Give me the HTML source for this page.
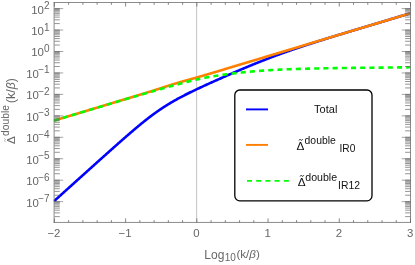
<!DOCTYPE html>
<html><head><meta charset="utf-8"><title>plot</title>
<style>html,body{margin:0;padding:0;background:#fff;}body{width:415px;height:265px;overflow:hidden;font-family:"Liberation Sans",sans-serif;}</style></head>
<body>
<svg width="415" height="265" viewBox="0 0 415 265" style="display:block;will-change:transform">
<rect width="415" height="265" fill="#fff"/>
<defs><clipPath id="c"><rect x="53.60" y="2.50" width="356.90" height="219.95"/></clipPath></defs>
<line x1="196.64" y1="2.50" x2="196.64" y2="222.45" stroke="#bbbbbb" stroke-width="0.9"/>
<g clip-path="url(#c)" fill="none" stroke-linejoin="round">
<path d="M53.90,201.27 L54.40,200.82 L54.90,200.37 L55.40,199.92 L55.90,199.47 L56.40,199.02 L56.90,198.56 L57.40,198.11 L57.90,197.66 L58.40,197.21 L58.90,196.76 L59.40,196.31 L59.90,195.86 L60.40,195.41 L60.90,194.96 L61.40,194.51 L61.90,194.06 L62.40,193.61 L62.90,193.15 L63.40,192.70 L63.90,192.25 L64.40,191.80 L64.90,191.35 L65.40,190.90 L65.90,190.45 L66.40,190.00 L66.90,189.55 L67.40,189.10 L67.90,188.65 L68.40,188.20 L68.90,187.74 L69.40,187.29 L69.90,186.84 L70.40,186.39 L70.90,185.94 L71.40,185.49 L71.91,185.04 L72.41,184.59 L72.91,184.14 L73.41,183.69 L73.91,183.24 L74.41,182.79 L74.91,182.34 L75.41,181.89 L75.91,181.44 L76.41,180.98 L76.91,180.53 L77.41,180.08 L77.91,179.63 L78.41,179.18 L78.91,178.73 L79.41,178.28 L79.91,177.83 L80.41,177.38 L80.91,176.93 L81.41,176.48 L81.91,176.03 L82.41,175.58 L82.91,175.13 L83.41,174.68 L83.91,174.23 L84.41,173.78 L84.91,173.33 L85.41,172.88 L85.91,172.43 L86.41,171.98 L86.91,171.53 L87.41,171.08 L87.91,170.63 L88.41,170.18 L88.91,169.73 L89.41,169.28 L89.91,168.83 L90.41,168.38 L90.91,167.93 L91.41,167.48 L91.91,167.03 L92.41,166.58 L92.91,166.13 L93.41,165.68 L93.91,165.23 L94.41,164.78 L94.91,164.33 L95.41,163.88 L95.91,163.43 L96.41,162.98 L96.91,162.53 L97.41,162.08 L97.91,161.64 L98.41,161.19 L98.91,160.74 L99.41,160.29 L99.91,159.84 L100.41,159.39 L100.91,158.94 L101.41,158.49 L101.91,158.05 L102.41,157.60 L102.91,157.15 L103.41,156.70 L103.91,156.25 L104.41,155.81 L104.91,155.36 L105.41,154.91 L105.91,154.46 L106.41,154.02 L106.91,153.57 L107.42,153.12 L107.92,152.67 L108.42,152.23 L108.92,151.78 L109.42,151.33 L109.92,150.89 L110.42,150.44 L110.92,150.00 L111.42,149.55 L111.92,149.11 L112.42,148.66 L112.92,148.21 L113.42,147.77 L113.92,147.33 L114.42,146.88 L114.92,146.44 L115.42,145.99 L115.92,145.55 L116.42,145.11 L116.92,144.66 L117.42,144.22 L117.92,143.78 L118.42,143.34 L118.92,142.89 L119.42,142.45 L119.92,142.01 L120.42,141.57 L120.92,141.13 L121.42,140.69 L121.92,140.25 L122.42,139.81 L122.92,139.37 L123.42,138.93 L123.92,138.50 L124.42,138.06 L124.92,137.62 L125.42,137.19 L125.92,136.75 L126.42,136.31 L126.92,135.88 L127.42,135.45 L127.92,135.01 L128.42,134.58 L128.92,134.15 L129.42,133.71 L129.92,133.28 L130.42,132.85 L130.92,132.42 L131.42,131.99 L131.92,131.57 L132.42,131.14 L132.92,130.71 L133.42,130.29 L133.92,129.86 L134.42,129.44 L134.92,129.02 L135.42,128.59 L135.92,128.17 L136.42,127.75 L136.92,127.33 L137.42,126.91 L137.92,126.50 L138.42,126.08 L138.92,125.67 L139.42,125.25 L139.92,124.84 L140.42,124.43 L140.92,124.02 L141.42,123.61 L141.92,123.20 L142.42,122.80 L142.92,122.39 L143.43,121.99 L143.93,121.59 L144.43,121.19 L144.93,120.79 L145.43,120.39 L145.93,120.00 L146.43,119.60 L146.93,119.21 L147.43,118.82 L147.93,118.43 L148.43,118.04 L148.93,117.66 L149.43,117.27 L149.93,116.89 L150.43,116.51 L150.93,116.13 L151.43,115.75 L151.93,115.38 L152.43,115.01 L152.93,114.64 L153.43,114.27 L153.93,113.90 L154.43,113.54 L154.93,113.17 L155.43,112.81 L155.93,112.45 L156.43,112.10 L156.93,111.74 L157.43,111.39 L157.93,111.04 L158.43,110.69 L158.93,110.35 L159.43,110.00 L159.93,109.66 L160.43,109.32 L160.93,108.98 L161.43,108.65 L161.93,108.31 L162.43,107.98 L162.93,107.65 L163.43,107.33 L163.93,107.00 L164.43,106.68 L164.93,106.36 L165.43,106.04 L165.93,105.72 L166.43,105.41 L166.93,105.10 L167.43,104.79 L167.93,104.48 L168.43,104.17 L168.93,103.87 L169.43,103.57 L169.93,103.27 L170.43,102.97 L170.93,102.67 L171.43,102.38 L171.93,102.09 L172.43,101.80 L172.93,101.51 L173.43,101.22 L173.93,100.93 L174.43,100.65 L174.93,100.37 L175.43,100.09 L175.93,99.81 L176.43,99.53 L176.93,99.25 L177.43,98.98 L177.93,98.71 L178.43,98.44 L178.94,98.17 L179.44,97.90 L179.94,97.63 L180.44,97.36 L180.94,97.10 L181.44,96.84 L181.94,96.57 L182.44,96.31 L182.94,96.05 L183.44,95.80 L183.94,95.54 L184.44,95.28 L184.94,95.03 L185.44,94.77 L185.94,94.52 L186.44,94.27 L186.94,94.02 L187.44,93.77 L187.94,93.52 L188.44,93.27 L188.94,93.02 L189.44,92.78 L189.94,92.53 L190.44,92.28 L190.94,92.04 L191.44,91.80 L191.94,91.55 L192.44,91.31 L192.94,91.07 L193.44,90.83 L193.94,90.59 L194.44,90.35 L194.94,90.11 L195.44,89.87 L195.94,89.64 L196.44,89.40 L196.94,89.16 L197.44,88.93 L197.94,88.69 L198.44,88.46 L198.94,88.22 L199.44,87.99 L199.94,87.76 L200.44,87.52 L200.94,87.29 L201.44,87.06 L201.94,86.83 L202.44,86.59 L202.94,86.36 L203.44,86.13 L203.94,85.90 L204.44,85.67 L204.94,85.44 L205.44,85.21 L205.94,84.99 L206.44,84.76 L206.94,84.53 L207.44,84.30 L207.94,84.07 L208.44,83.85 L208.94,83.62 L209.44,83.39 L209.94,83.17 L210.44,82.94 L210.94,82.71 L211.44,82.49 L211.94,82.26 L212.44,82.04 L212.94,81.81 L213.44,81.59 L213.94,81.36 L214.45,81.14 L214.95,80.92 L215.45,80.69 L215.95,80.47 L216.45,80.25 L216.95,80.02 L217.45,79.80 L217.95,79.58 L218.45,79.35 L218.95,79.13 L219.45,78.91 L219.95,78.69 L220.45,78.47 L220.95,78.25 L221.45,78.02 L221.95,77.80 L222.45,77.58 L222.95,77.36 L223.45,77.14 L223.95,76.92 L224.45,76.70 L224.95,76.48 L225.45,76.26 L225.95,76.04 L226.45,75.83 L226.95,75.61 L227.45,75.39 L227.95,75.17 L228.45,74.95 L228.95,74.73 L229.45,74.52 L229.95,74.30 L230.45,74.08 L230.95,73.86 L231.45,73.65 L231.95,73.43 L232.45,73.21 L232.95,73.00 L233.45,72.78 L233.95,72.57 L234.45,72.35 L234.95,72.13 L235.45,71.92 L235.95,71.70 L236.45,71.49 L236.95,71.28 L237.45,71.06 L237.95,70.85 L238.45,70.63 L238.95,70.42 L239.45,70.21 L239.95,69.99 L240.45,69.78 L240.95,69.57 L241.45,69.36 L241.95,69.15 L242.45,68.93 L242.95,68.72 L243.45,68.51 L243.95,68.30 L244.45,68.09 L244.95,67.88 L245.45,67.67 L245.95,67.46 L246.45,67.25 L246.95,67.04 L247.45,66.84 L247.95,66.63 L248.45,66.42 L248.95,66.21 L249.45,66.00 L249.95,65.80 L250.46,65.59 L250.96,65.39 L251.46,65.18 L251.96,64.97 L252.46,64.77 L252.96,64.56 L253.46,64.36 L253.96,64.16 L254.46,63.95 L254.96,63.75 L255.46,63.55 L255.96,63.34 L256.46,63.14 L256.96,62.94 L257.46,62.74 L257.96,62.54 L258.46,62.34 L258.96,62.14 L259.46,61.94 L259.96,61.74 L260.46,61.54 L260.96,61.34 L261.46,61.14 L261.96,60.94 L262.46,60.75 L262.96,60.55 L263.46,60.35 L263.96,60.16 L264.46,59.96 L264.96,59.77 L265.46,59.57 L265.96,59.38 L266.46,59.18 L266.96,58.99 L267.46,58.80 L267.96,58.60 L268.46,58.41 L268.96,58.22 L269.46,58.03 L269.96,57.84 L270.46,57.65 L270.96,57.46 L271.46,57.27 L271.96,57.08 L272.46,56.89 L272.96,56.70 L273.46,56.51 L273.96,56.33 L274.46,56.14 L274.96,55.95 L275.46,55.77 L275.96,55.58 L276.46,55.40 L276.96,55.21 L277.46,55.03 L277.96,54.85 L278.46,54.66 L278.96,54.48 L279.46,54.30 L279.96,54.12 L280.46,53.93 L280.96,53.75 L281.46,53.57 L281.96,53.39 L282.46,53.21 L282.96,53.03 L283.46,52.85 L283.96,52.68 L284.46,52.50 L284.96,52.32 L285.46,52.14 L285.97,51.97 L286.47,51.79 L286.97,51.61 L287.47,51.44 L287.97,51.26 L288.47,51.09 L288.97,50.91 L289.47,50.74 L289.97,50.57 L290.47,50.39 L290.97,50.22 L291.47,50.05 L291.97,49.88 L292.47,49.70 L292.97,49.53 L293.47,49.36 L293.97,49.19 L294.47,49.02 L294.97,48.85 L295.47,48.68 L295.97,48.51 L296.47,48.34 L296.97,48.17 L297.47,48.01 L297.97,47.84 L298.47,47.67 L298.97,47.50 L299.47,47.33 L299.97,47.17 L300.47,47.00 L300.97,46.83 L301.47,46.67 L301.97,46.50 L302.47,46.34 L302.97,46.17 L303.47,46.01 L303.97,45.84 L304.47,45.68 L304.97,45.51 L305.47,45.35 L305.97,45.19 L306.47,45.02 L306.97,44.86 L307.47,44.70 L307.97,44.53 L308.47,44.37 L308.97,44.21 L309.47,44.05 L309.97,43.89 L310.47,43.72 L310.97,43.56 L311.47,43.40 L311.97,43.24 L312.47,43.08 L312.97,42.92 L313.47,42.76 L313.97,42.60 L314.47,42.44 L314.97,42.28 L315.47,42.12 L315.97,41.96 L316.47,41.80 L316.97,41.64 L317.47,41.48 L317.97,41.32 L318.47,41.16 L318.97,41.01 L319.47,40.85 L319.97,40.69 L320.47,40.53 L320.97,40.37 L321.48,40.22 L321.98,40.06 L322.48,39.90 L322.98,39.74 L323.48,39.59 L323.98,39.43 L324.48,39.27 L324.98,39.12 L325.48,38.96 L325.98,38.80 L326.48,38.65 L326.98,38.49 L327.48,38.33 L327.98,38.18 L328.48,38.02 L328.98,37.87 L329.48,37.71 L329.98,37.56 L330.48,37.40 L330.98,37.25 L331.48,37.09 L331.98,36.94 L332.48,36.79 L332.98,36.63 L333.48,36.48 L333.98,36.32 L334.48,36.17 L334.98,36.02 L335.48,35.86 L335.98,35.71 L336.48,35.56 L336.98,35.41 L337.48,35.25 L337.98,35.10 L338.48,34.95 L338.98,34.80 L339.48,34.64 L339.98,34.49 L340.48,34.34 L340.98,34.19 L341.48,34.04 L341.98,33.89 L342.48,33.73 L342.98,33.58 L343.48,33.43 L343.98,33.28 L344.48,33.13 L344.98,32.98 L345.48,32.83 L345.98,32.68 L346.48,32.53 L346.98,32.38 L347.48,32.23 L347.98,32.08 L348.48,31.92 L348.98,31.77 L349.48,31.62 L349.98,31.47 L350.48,31.32 L350.98,31.17 L351.48,31.02 L351.98,30.87 L352.48,30.72 L352.98,30.57 L353.48,30.42 L353.98,30.27 L354.48,30.12 L354.98,29.97 L355.48,29.82 L355.98,29.67 L356.48,29.51 L356.98,29.36 L357.49,29.21 L357.99,29.06 L358.49,28.91 L358.99,28.76 L359.49,28.61 L359.99,28.46 L360.49,28.31 L360.99,28.16 L361.49,28.01 L361.99,27.86 L362.49,27.71 L362.99,27.56 L363.49,27.41 L363.99,27.26 L364.49,27.11 L364.99,26.95 L365.49,26.80 L365.99,26.65 L366.49,26.50 L366.99,26.35 L367.49,26.20 L367.99,26.05 L368.49,25.90 L368.99,25.75 L369.49,25.60 L369.99,25.45 L370.49,25.30 L370.99,25.15 L371.49,25.00 L371.99,24.85 L372.49,24.70 L372.99,24.54 L373.49,24.39 L373.99,24.24 L374.49,24.09 L374.99,23.94 L375.49,23.79 L375.99,23.64 L376.49,23.49 L376.99,23.34 L377.49,23.19 L377.99,23.04 L378.49,22.89 L378.99,22.74 L379.49,22.59 L379.99,22.44 L380.49,22.29 L380.99,22.14 L381.49,21.98 L381.99,21.83 L382.49,21.68 L382.99,21.53 L383.49,21.38 L383.99,21.23 L384.49,21.08 L384.99,20.93 L385.49,20.78 L385.99,20.63 L386.49,20.48 L386.99,20.33 L387.49,20.18 L387.99,20.03 L388.49,19.88 L388.99,19.73 L389.49,19.57 L389.99,19.42 L390.49,19.27 L390.99,19.12 L391.49,18.97 L391.99,18.82 L392.49,18.67 L393.00,18.52 L393.50,18.37 L394.00,18.22 L394.50,18.07 L395.00,17.92 L395.50,17.77 L396.00,17.62 L396.50,17.47 L397.00,17.32 L397.50,17.17 L398.00,17.01 L398.50,16.86 L399.00,16.71 L399.50,16.56 L400.00,16.41 L400.50,16.26 L401.00,16.11 L401.50,15.96 L402.00,15.81 L402.50,15.66 L403.00,15.51 L403.50,15.36 L404.00,15.21 L404.50,15.06 L405.00,14.91 L405.50,14.76 L406.00,14.60 L406.50,14.45 L407.00,14.30 L407.50,14.15 L408.00,14.00 L408.50,13.85 L409.00,13.70 L409.50,13.55 L410.00,13.40 L410.50,13.25" stroke="#0000ff" stroke-width="2.6"/>
<path d="M53.90,120.63 L54.40,120.48 L54.90,120.33 L55.40,120.18 L55.90,120.03 L56.40,119.88 L56.90,119.73 L57.40,119.58 L57.90,119.43 L58.40,119.28 L58.90,119.12 L59.40,118.97 L59.90,118.82 L60.40,118.67 L60.90,118.52 L61.40,118.37 L61.90,118.22 L62.40,118.07 L62.90,117.92 L63.40,117.77 L63.90,117.62 L64.40,117.47 L64.90,117.32 L65.40,117.17 L65.90,117.02 L66.40,116.87 L66.90,116.71 L67.40,116.56 L67.90,116.41 L68.40,116.26 L68.90,116.11 L69.40,115.96 L69.90,115.81 L70.40,115.66 L70.90,115.51 L71.40,115.36 L71.91,115.21 L72.41,115.06 L72.91,114.91 L73.41,114.76 L73.91,114.61 L74.41,114.46 L74.91,114.31 L75.41,114.15 L75.91,114.00 L76.41,113.85 L76.91,113.70 L77.41,113.55 L77.91,113.40 L78.41,113.25 L78.91,113.10 L79.41,112.95 L79.91,112.80 L80.41,112.65 L80.91,112.50 L81.41,112.35 L81.91,112.20 L82.41,112.05 L82.91,111.90 L83.41,111.74 L83.91,111.59 L84.41,111.44 L84.91,111.29 L85.41,111.14 L85.91,110.99 L86.41,110.84 L86.91,110.69 L87.41,110.54 L87.91,110.39 L88.41,110.24 L88.91,110.09 L89.41,109.94 L89.91,109.79 L90.41,109.64 L90.91,109.49 L91.41,109.34 L91.91,109.18 L92.41,109.03 L92.91,108.88 L93.41,108.73 L93.91,108.58 L94.41,108.43 L94.91,108.28 L95.41,108.13 L95.91,107.98 L96.41,107.83 L96.91,107.68 L97.41,107.53 L97.91,107.38 L98.41,107.23 L98.91,107.08 L99.41,106.93 L99.91,106.78 L100.41,106.62 L100.91,106.47 L101.41,106.32 L101.91,106.17 L102.41,106.02 L102.91,105.87 L103.41,105.72 L103.91,105.57 L104.41,105.42 L104.91,105.27 L105.41,105.12 L105.91,104.97 L106.41,104.82 L106.91,104.67 L107.42,104.52 L107.92,104.37 L108.42,104.21 L108.92,104.06 L109.42,103.91 L109.92,103.76 L110.42,103.61 L110.92,103.46 L111.42,103.31 L111.92,103.16 L112.42,103.01 L112.92,102.86 L113.42,102.71 L113.92,102.56 L114.42,102.41 L114.92,102.26 L115.42,102.11 L115.92,101.96 L116.42,101.81 L116.92,101.65 L117.42,101.50 L117.92,101.35 L118.42,101.20 L118.92,101.05 L119.42,100.90 L119.92,100.75 L120.42,100.60 L120.92,100.45 L121.42,100.30 L121.92,100.15 L122.42,100.00 L122.92,99.85 L123.42,99.70 L123.92,99.55 L124.42,99.40 L124.92,99.24 L125.42,99.09 L125.92,98.94 L126.42,98.79 L126.92,98.64 L127.42,98.49 L127.92,98.34 L128.42,98.19 L128.92,98.04 L129.42,97.89 L129.92,97.74 L130.42,97.59 L130.92,97.44 L131.42,97.29 L131.92,97.14 L132.42,96.98 L132.92,96.83 L133.42,96.68 L133.92,96.53 L134.42,96.38 L134.92,96.23 L135.42,96.08 L135.92,95.93 L136.42,95.78 L136.92,95.63 L137.42,95.47 L137.92,95.32 L138.42,95.17 L138.92,95.02 L139.42,94.87 L139.92,94.72 L140.42,94.57 L140.92,94.41 L141.42,94.26 L141.92,94.11 L142.42,93.96 L142.92,93.81 L143.43,93.65 L143.93,93.50 L144.43,93.35 L144.93,93.20 L145.43,93.04 L145.93,92.89 L146.43,92.74 L146.93,92.58 L147.43,92.43 L147.93,92.27 L148.43,92.12 L148.93,91.96 L149.43,91.81 L149.93,91.65 L150.43,91.50 L150.93,91.34 L151.43,91.19 L151.93,91.03 L152.43,90.87 L152.93,90.71 L153.43,90.56 L153.93,90.40 L154.43,90.24 L154.93,90.08 L155.43,89.92 L155.93,89.76 L156.43,89.60 L156.93,89.44 L157.43,89.28 L157.93,89.12 L158.43,88.96 L158.93,88.80 L159.43,88.64 L159.93,88.48 L160.43,88.32 L160.93,88.15 L161.43,87.99 L161.93,87.83 L162.43,87.67 L162.93,87.50 L163.43,87.34 L163.93,87.18 L164.43,87.02 L164.93,86.85 L165.43,86.69 L165.93,86.53 L166.43,86.37 L166.93,86.21 L167.43,86.04 L167.93,85.88 L168.43,85.72 L168.93,85.56 L169.43,85.40 L169.93,85.24 L170.43,85.09 L170.93,84.93 L171.43,84.77 L171.93,84.61 L172.43,84.46 L172.93,84.30 L173.43,84.15 L173.93,83.99 L174.43,83.84 L174.93,83.69 L175.43,83.53 L175.93,83.38 L176.43,83.23 L176.93,83.08 L177.43,82.93 L177.93,82.79 L178.43,82.64 L178.94,82.49 L179.44,82.35 L179.94,82.20 L180.44,82.06 L180.94,81.91 L181.44,81.77 L181.94,81.63 L182.44,81.49 L182.94,81.34 L183.44,81.20 L183.94,81.06 L184.44,80.92 L184.94,80.78 L185.44,80.64 L185.94,80.50 L186.44,80.36 L186.94,80.22 L187.44,80.09 L187.94,79.95 L188.44,79.81 L188.94,79.67 L189.44,79.53 L189.94,79.39 L190.44,79.25 L190.94,79.11 L191.44,78.97 L191.94,78.84 L192.44,78.70 L192.94,78.56 L193.44,78.42 L193.94,78.28 L194.44,78.14 L194.94,77.99 L195.44,77.85 L195.94,77.71 L196.44,77.57 L196.94,77.43 L197.44,77.29 L197.94,77.14 L198.44,77.00 L198.94,76.86 L199.44,76.71 L199.94,76.57 L200.44,76.42 L200.94,76.28 L201.44,76.13 L201.94,75.99 L202.44,75.84 L202.94,75.70 L203.44,75.55 L203.94,75.40 L204.44,75.26 L204.94,75.11 L205.44,74.96 L205.94,74.82 L206.44,74.67 L206.94,74.52 L207.44,74.37 L207.94,74.22 L208.44,74.07 L208.94,73.93 L209.44,73.78 L209.94,73.63 L210.44,73.48 L210.94,73.33 L211.44,73.18 L211.94,73.03 L212.44,72.88 L212.94,72.73 L213.44,72.58 L213.94,72.43 L214.45,72.28 L214.95,72.13 L215.45,71.98 L215.95,71.83 L216.45,71.68 L216.95,71.53 L217.45,71.38 L217.95,71.23 L218.45,71.08 L218.95,70.93 L219.45,70.78 L219.95,70.63 L220.45,70.48 L220.95,70.33 L221.45,70.18 L221.95,70.03 L222.45,69.88 L222.95,69.73 L223.45,69.58 L223.95,69.42 L224.45,69.27 L224.95,69.12 L225.45,68.97 L225.95,68.82 L226.45,68.67 L226.95,68.52 L227.45,68.37 L227.95,68.22 L228.45,68.07 L228.95,67.92 L229.45,67.77 L229.95,67.62 L230.45,67.47 L230.95,67.32 L231.45,67.17 L231.95,67.02 L232.45,66.86 L232.95,66.71 L233.45,66.56 L233.95,66.41 L234.45,66.26 L234.95,66.11 L235.45,65.96 L235.95,65.81 L236.45,65.66 L236.95,65.51 L237.45,65.36 L237.95,65.21 L238.45,65.06 L238.95,64.91 L239.45,64.76 L239.95,64.61 L240.45,64.46 L240.95,64.30 L241.45,64.15 L241.95,64.00 L242.45,63.85 L242.95,63.70 L243.45,63.55 L243.95,63.40 L244.45,63.25 L244.95,63.10 L245.45,62.95 L245.95,62.80 L246.45,62.65 L246.95,62.50 L247.45,62.35 L247.95,62.20 L248.45,62.05 L248.95,61.89 L249.45,61.74 L249.95,61.59 L250.46,61.44 L250.96,61.29 L251.46,61.14 L251.96,60.99 L252.46,60.84 L252.96,60.69 L253.46,60.54 L253.96,60.39 L254.46,60.24 L254.96,60.09 L255.46,59.94 L255.96,59.79 L256.46,59.64 L256.96,59.49 L257.46,59.33 L257.96,59.18 L258.46,59.03 L258.96,58.88 L259.46,58.73 L259.96,58.58 L260.46,58.43 L260.96,58.28 L261.46,58.13 L261.96,57.98 L262.46,57.83 L262.96,57.68 L263.46,57.53 L263.96,57.38 L264.46,57.23 L264.96,57.08 L265.46,56.92 L265.96,56.77 L266.46,56.62 L266.96,56.47 L267.46,56.32 L267.96,56.17 L268.46,56.02 L268.96,55.87 L269.46,55.72 L269.96,55.57 L270.46,55.42 L270.96,55.27 L271.46,55.12 L271.96,54.97 L272.46,54.82 L272.96,54.67 L273.46,54.52 L273.96,54.36 L274.46,54.21 L274.96,54.06 L275.46,53.91 L275.96,53.76 L276.46,53.61 L276.96,53.46 L277.46,53.31 L277.96,53.16 L278.46,53.01 L278.96,52.86 L279.46,52.71 L279.96,52.56 L280.46,52.41 L280.96,52.26 L281.46,52.11 L281.96,51.95 L282.46,51.80 L282.96,51.65 L283.46,51.50 L283.96,51.35 L284.46,51.20 L284.96,51.05 L285.46,50.90 L285.97,50.75 L286.47,50.60 L286.97,50.45 L287.47,50.30 L287.97,50.15 L288.47,50.00 L288.97,49.85 L289.47,49.70 L289.97,49.55 L290.47,49.39 L290.97,49.24 L291.47,49.09 L291.97,48.94 L292.47,48.79 L292.97,48.64 L293.47,48.49 L293.97,48.34 L294.47,48.19 L294.97,48.04 L295.47,47.89 L295.97,47.74 L296.47,47.59 L296.97,47.44 L297.47,47.29 L297.97,47.14 L298.47,46.98 L298.97,46.83 L299.47,46.68 L299.97,46.53 L300.47,46.38 L300.97,46.23 L301.47,46.08 L301.97,45.93 L302.47,45.78 L302.97,45.63 L303.47,45.48 L303.97,45.33 L304.47,45.18 L304.97,45.03 L305.47,44.88 L305.97,44.73 L306.47,44.58 L306.97,44.42 L307.47,44.27 L307.97,44.12 L308.47,43.97 L308.97,43.82 L309.47,43.67 L309.97,43.52 L310.47,43.37 L310.97,43.22 L311.47,43.07 L311.97,42.92 L312.47,42.77 L312.97,42.62 L313.47,42.47 L313.97,42.32 L314.47,42.17 L314.97,42.01 L315.47,41.86 L315.97,41.71 L316.47,41.56 L316.97,41.41 L317.47,41.26 L317.97,41.11 L318.47,40.96 L318.97,40.81 L319.47,40.66 L319.97,40.51 L320.47,40.36 L320.97,40.21 L321.48,40.06 L321.98,39.91 L322.48,39.76 L322.98,39.61 L323.48,39.45 L323.98,39.30 L324.48,39.15 L324.98,39.00 L325.48,38.85 L325.98,38.70 L326.48,38.55 L326.98,38.40 L327.48,38.25 L327.98,38.10 L328.48,37.95 L328.98,37.80 L329.48,37.65 L329.98,37.50 L330.48,37.35 L330.98,37.20 L331.48,37.04 L331.98,36.89 L332.48,36.74 L332.98,36.59 L333.48,36.44 L333.98,36.29 L334.48,36.14 L334.98,35.99 L335.48,35.84 L335.98,35.69 L336.48,35.54 L336.98,35.39 L337.48,35.24 L337.98,35.09 L338.48,34.94 L338.98,34.79 L339.48,34.64 L339.98,34.48 L340.48,34.33 L340.98,34.18 L341.48,34.03 L341.98,33.88 L342.48,33.73 L342.98,33.58 L343.48,33.43 L343.98,33.28 L344.48,33.13 L344.98,32.98 L345.48,32.83 L345.98,32.68 L346.48,32.53 L346.98,32.38 L347.48,32.23 L347.98,32.08 L348.48,31.92 L348.98,31.77 L349.48,31.62 L349.98,31.47 L350.48,31.32 L350.98,31.17 L351.48,31.02 L351.98,30.87 L352.48,30.72 L352.98,30.57 L353.48,30.42 L353.98,30.27 L354.48,30.12 L354.98,29.97 L355.48,29.82 L355.98,29.67 L356.48,29.51 L356.98,29.36 L357.49,29.21 L357.99,29.06 L358.49,28.91 L358.99,28.76 L359.49,28.61 L359.99,28.46 L360.49,28.31 L360.99,28.16 L361.49,28.01 L361.99,27.86 L362.49,27.71 L362.99,27.56 L363.49,27.41 L363.99,27.26 L364.49,27.11 L364.99,26.95 L365.49,26.80 L365.99,26.65 L366.49,26.50 L366.99,26.35 L367.49,26.20 L367.99,26.05 L368.49,25.90 L368.99,25.75 L369.49,25.60 L369.99,25.45 L370.49,25.30 L370.99,25.15 L371.49,25.00 L371.99,24.85 L372.49,24.70 L372.99,24.54 L373.49,24.39 L373.99,24.24 L374.49,24.09 L374.99,23.94 L375.49,23.79 L375.99,23.64 L376.49,23.49 L376.99,23.34 L377.49,23.19 L377.99,23.04 L378.49,22.89 L378.99,22.74 L379.49,22.59 L379.99,22.44 L380.49,22.29 L380.99,22.14 L381.49,21.98 L381.99,21.83 L382.49,21.68 L382.99,21.53 L383.49,21.38 L383.99,21.23 L384.49,21.08 L384.99,20.93 L385.49,20.78 L385.99,20.63 L386.49,20.48 L386.99,20.33 L387.49,20.18 L387.99,20.03 L388.49,19.88 L388.99,19.73 L389.49,19.57 L389.99,19.42 L390.49,19.27 L390.99,19.12 L391.49,18.97 L391.99,18.82 L392.49,18.67 L393.00,18.52 L393.50,18.37 L394.00,18.22 L394.50,18.07 L395.00,17.92 L395.50,17.77 L396.00,17.62 L396.50,17.47 L397.00,17.32 L397.50,17.17 L398.00,17.01 L398.50,16.86 L399.00,16.71 L399.50,16.56 L400.00,16.41 L400.50,16.26 L401.00,16.11 L401.50,15.96 L402.00,15.81 L402.50,15.66 L403.00,15.51 L403.50,15.36 L404.00,15.21 L404.50,15.06 L405.00,14.91 L405.50,14.76 L406.00,14.60 L406.50,14.45 L407.00,14.30 L407.50,14.15 L408.00,14.00 L408.50,13.85 L409.00,13.70 L409.50,13.55 L410.00,13.40 L410.50,13.25" stroke="#ff8000" stroke-width="2.6"/>
<path d="M53.90,120.63 L54.40,120.48 L54.90,120.33 L55.40,120.18 L55.90,120.03 L56.40,119.88 L56.90,119.73 L57.40,119.58 L57.90,119.43 L58.40,119.28 L58.90,119.13 L59.40,118.98 L59.90,118.83 L60.40,118.68 L60.90,118.53 L61.40,118.38 L61.90,118.23 L62.40,118.08 L62.90,117.93 L63.40,117.78 L63.90,117.63 L64.40,117.48 L64.90,117.33 L65.40,117.18 L65.90,117.03 L66.40,116.87 L66.90,116.72 L67.40,116.57 L67.90,116.42 L68.40,116.27 L68.90,116.12 L69.40,115.97 L69.90,115.82 L70.40,115.67 L70.90,115.52 L71.40,115.37 L71.91,115.22 L72.41,115.07 L72.91,114.92 L73.41,114.77 L73.91,114.62 L74.41,114.47 L74.91,114.32 L75.41,114.17 L75.91,114.02 L76.41,113.87 L76.91,113.72 L77.41,113.57 L77.91,113.42 L78.41,113.27 L78.91,113.12 L79.41,112.97 L79.91,112.82 L80.41,112.67 L80.91,112.52 L81.41,112.37 L81.91,112.22 L82.41,112.07 L82.91,111.92 L83.41,111.77 L83.91,111.63 L84.41,111.48 L84.91,111.33 L85.41,111.18 L85.91,111.03 L86.41,110.88 L86.91,110.73 L87.41,110.58 L87.91,110.43 L88.41,110.28 L88.91,110.13 L89.41,109.98 L89.91,109.83 L90.41,109.68 L90.91,109.53 L91.41,109.38 L91.91,109.23 L92.41,109.08 L92.91,108.93 L93.41,108.78 L93.91,108.63 L94.41,108.48 L94.91,108.33 L95.41,108.18 L95.91,108.03 L96.41,107.88 L96.91,107.74 L97.41,107.59 L97.91,107.44 L98.41,107.29 L98.91,107.14 L99.41,106.99 L99.91,106.84 L100.41,106.69 L100.91,106.54 L101.41,106.39 L101.91,106.24 L102.41,106.09 L102.91,105.94 L103.41,105.80 L103.91,105.65 L104.41,105.50 L104.91,105.35 L105.41,105.20 L105.91,105.05 L106.41,104.90 L106.91,104.75 L107.42,104.60 L107.92,104.45 L108.42,104.31 L108.92,104.16 L109.42,104.01 L109.92,103.86 L110.42,103.71 L110.92,103.56 L111.42,103.41 L111.92,103.26 L112.42,103.12 L112.92,102.97 L113.42,102.82 L113.92,102.67 L114.42,102.52 L114.92,102.37 L115.42,102.22 L115.92,102.08 L116.42,101.93 L116.92,101.78 L117.42,101.63 L117.92,101.48 L118.42,101.33 L118.92,101.19 L119.42,101.04 L119.92,100.89 L120.42,100.74 L120.92,100.59 L121.42,100.45 L121.92,100.30 L122.42,100.15 L122.92,100.00 L123.42,99.86 L123.92,99.71 L124.42,99.56 L124.92,99.41 L125.42,99.26 L125.92,99.12 L126.42,98.97 L126.92,98.82 L127.42,98.67 L127.92,98.53 L128.42,98.38 L128.92,98.23 L129.42,98.09 L129.92,97.94 L130.42,97.79 L130.92,97.64 L131.42,97.50 L131.92,97.35 L132.42,97.20 L132.92,97.06 L133.42,96.91 L133.92,96.76 L134.42,96.62 L134.92,96.47 L135.42,96.32 L135.92,96.18 L136.42,96.03 L136.92,95.88 L137.42,95.74 L137.92,95.59 L138.42,95.45 L138.92,95.30 L139.42,95.15 L139.92,95.01 L140.42,94.86 L140.92,94.72 L141.42,94.57 L141.92,94.43 L142.42,94.28 L142.92,94.14 L143.43,93.99 L143.93,93.84 L144.43,93.70 L144.93,93.55 L145.43,93.41 L145.93,93.26 L146.43,93.12 L146.93,92.98 L147.43,92.83 L147.93,92.69 L148.43,92.54 L148.93,92.40 L149.43,92.25 L149.93,92.11 L150.43,91.97 L150.93,91.82 L151.43,91.68 L151.93,91.53 L152.43,91.39 L152.93,91.25 L153.43,91.10 L153.93,90.96 L154.43,90.82 L154.93,90.67 L155.43,90.53 L155.93,90.39 L156.43,90.25 L156.93,90.10 L157.43,89.96 L157.93,89.82 L158.43,89.68 L158.93,89.53 L159.43,89.39 L159.93,89.25 L160.43,89.11 L160.93,88.97 L161.43,88.83 L161.93,88.68 L162.43,88.54 L162.93,88.40 L163.43,88.26 L163.93,88.12 L164.43,87.98 L164.93,87.84 L165.43,87.70 L165.93,87.56 L166.43,87.42 L166.93,87.28 L167.43,87.14 L167.93,87.00 L168.43,86.86 L168.93,86.72 L169.43,86.59 L169.93,86.45 L170.43,86.31 L170.93,86.17 L171.43,86.03 L171.93,85.89 L172.43,85.76 L172.93,85.62 L173.43,85.48 L173.93,85.34 L174.43,85.21 L174.93,85.07 L175.43,84.94 L175.93,84.80 L176.43,84.66 L176.93,84.53 L177.43,84.39 L177.93,84.26 L178.43,84.12 L178.94,83.99 L179.44,83.85 L179.94,83.72 L180.44,83.59 L180.94,83.45 L181.44,83.32 L181.94,83.19 L182.44,83.06 L182.94,82.92 L183.44,82.79 L183.94,82.66 L184.44,82.53 L184.94,82.40 L185.44,82.27 L185.94,82.14 L186.44,82.01 L186.94,81.88 L187.44,81.76 L187.94,81.63 L188.44,81.50 L188.94,81.37 L189.44,81.25 L189.94,81.12 L190.44,81.00 L190.94,80.87 L191.44,80.75 L191.94,80.63 L192.44,80.51 L192.94,80.39 L193.44,80.26 L193.94,80.15 L194.44,80.03 L194.94,79.91 L195.44,79.79 L195.94,79.68 L196.44,79.56 L196.94,79.45 L197.44,79.33 L197.94,79.22 L198.44,79.11 L198.94,79.00 L199.44,78.89 L199.94,78.78 L200.44,78.68 L200.94,78.57 L201.44,78.46 L201.94,78.36 L202.44,78.26 L202.94,78.16 L203.44,78.06 L203.94,77.96 L204.44,77.86 L204.94,77.76 L205.44,77.66 L205.94,77.57 L206.44,77.47 L206.94,77.38 L207.44,77.29 L207.94,77.20 L208.44,77.11 L208.94,77.02 L209.44,76.93 L209.94,76.84 L210.44,76.75 L210.94,76.67 L211.44,76.58 L211.94,76.50 L212.44,76.41 L212.94,76.33 L213.44,76.25 L213.94,76.17 L214.45,76.08 L214.95,76.00 L215.45,75.92 L215.95,75.84 L216.45,75.77 L216.95,75.69 L217.45,75.61 L217.95,75.53 L218.45,75.46 L218.95,75.38 L219.45,75.31 L219.95,75.23 L220.45,75.16 L220.95,75.09 L221.45,75.01 L221.95,74.94 L222.45,74.87 L222.95,74.80 L223.45,74.73 L223.95,74.66 L224.45,74.59 L224.95,74.52 L225.45,74.45 L225.95,74.38 L226.45,74.31 L226.95,74.25 L227.45,74.18 L227.95,74.11 L228.45,74.05 L228.95,73.98 L229.45,73.92 L229.95,73.85 L230.45,73.79 L230.95,73.72 L231.45,73.66 L231.95,73.60 L232.45,73.54 L232.95,73.48 L233.45,73.41 L233.95,73.35 L234.45,73.29 L234.95,73.23 L235.45,73.18 L235.95,73.12 L236.45,73.06 L236.95,73.00 L237.45,72.94 L237.95,72.89 L238.45,72.83 L238.95,72.77 L239.45,72.72 L239.95,72.66 L240.45,72.61 L240.95,72.56 L241.45,72.50 L241.95,72.45 L242.45,72.40 L242.95,72.34 L243.45,72.29 L243.95,72.24 L244.45,72.19 L244.95,72.14 L245.45,72.09 L245.95,72.04 L246.45,71.99 L246.95,71.94 L247.45,71.89 L247.95,71.85 L248.45,71.80 L248.95,71.75 L249.45,71.71 L249.95,71.66 L250.46,71.61 L250.96,71.57 L251.46,71.52 L251.96,71.48 L252.46,71.44 L252.96,71.39 L253.46,71.35 L253.96,71.31 L254.46,71.27 L254.96,71.22 L255.46,71.18 L255.96,71.14 L256.46,71.10 L256.96,71.06 L257.46,71.02 L257.96,70.98 L258.46,70.94 L258.96,70.91 L259.46,70.87 L259.96,70.83 L260.46,70.79 L260.96,70.76 L261.46,70.72 L261.96,70.68 L262.46,70.65 L262.96,70.61 L263.46,70.58 L263.96,70.54 L264.46,70.51 L264.96,70.48 L265.46,70.44 L265.96,70.41 L266.46,70.38 L266.96,70.34 L267.46,70.31 L267.96,70.28 L268.46,70.25 L268.96,70.22 L269.46,70.19 L269.96,70.16 L270.46,70.13 L270.96,70.10 L271.46,70.07 L271.96,70.04 L272.46,70.01 L272.96,69.98 L273.46,69.96 L273.96,69.93 L274.46,69.90 L274.96,69.87 L275.46,69.85 L275.96,69.82 L276.46,69.80 L276.96,69.77 L277.46,69.74 L277.96,69.72 L278.46,69.70 L278.96,69.67 L279.46,69.65 L279.96,69.62 L280.46,69.60 L280.96,69.58 L281.46,69.55 L281.96,69.53 L282.46,69.51 L282.96,69.49 L283.46,69.46 L283.96,69.44 L284.46,69.42 L284.96,69.40 L285.46,69.38 L285.97,69.36 L286.47,69.34 L286.97,69.32 L287.47,69.30 L287.97,69.28 L288.47,69.26 L288.97,69.24 L289.47,69.22 L289.97,69.20 L290.47,69.18 L290.97,69.17 L291.47,69.15 L291.97,69.13 L292.47,69.11 L292.97,69.09 L293.47,69.08 L293.97,69.06 L294.47,69.04 L294.97,69.03 L295.47,69.01 L295.97,68.99 L296.47,68.98 L296.97,68.96 L297.47,68.95 L297.97,68.93 L298.47,68.92 L298.97,68.90 L299.47,68.89 L299.97,68.87 L300.47,68.86 L300.97,68.84 L301.47,68.83 L301.97,68.82 L302.47,68.80 L302.97,68.79 L303.47,68.77 L303.97,68.76 L304.47,68.75 L304.97,68.73 L305.47,68.72 L305.97,68.71 L306.47,68.70 L306.97,68.68 L307.47,68.67 L307.97,68.66 L308.47,68.65 L308.97,68.64 L309.47,68.62 L309.97,68.61 L310.47,68.60 L310.97,68.59 L311.47,68.58 L311.97,68.57 L312.47,68.56 L312.97,68.54 L313.47,68.53 L313.97,68.52 L314.47,68.51 L314.97,68.50 L315.47,68.49 L315.97,68.48 L316.47,68.47 L316.97,68.46 L317.47,68.45 L317.97,68.44 L318.47,68.43 L318.97,68.42 L319.47,68.41 L319.97,68.40 L320.47,68.39 L320.97,68.38 L321.48,68.37 L321.98,68.36 L322.48,68.36 L322.98,68.35 L323.48,68.34 L323.98,68.33 L324.48,68.32 L324.98,68.31 L325.48,68.30 L325.98,68.29 L326.48,68.29 L326.98,68.28 L327.48,68.27 L327.98,68.26 L328.48,68.25 L328.98,68.24 L329.48,68.24 L329.98,68.23 L330.48,68.22 L330.98,68.21 L331.48,68.20 L331.98,68.20 L332.48,68.19 L332.98,68.18 L333.48,68.17 L333.98,68.17 L334.48,68.16 L334.98,68.15 L335.48,68.14 L335.98,68.14 L336.48,68.13 L336.98,68.12 L337.48,68.11 L337.98,68.11 L338.48,68.10 L338.98,68.09 L339.48,68.08 L339.98,68.08 L340.48,68.07 L340.98,68.06 L341.48,68.06 L341.98,68.05 L342.48,68.04 L342.98,68.04 L343.48,68.03 L343.98,68.02 L344.48,68.02 L344.98,68.01 L345.48,68.00 L345.98,68.00 L346.48,67.99 L346.98,67.98 L347.48,67.98 L347.98,67.97 L348.48,67.96 L348.98,67.96 L349.48,67.95 L349.98,67.95 L350.48,67.94 L350.98,67.93 L351.48,67.93 L351.98,67.92 L352.48,67.91 L352.98,67.91 L353.48,67.90 L353.98,67.90 L354.48,67.89 L354.98,67.88 L355.48,67.88 L355.98,67.87 L356.48,67.87 L356.98,67.86 L357.49,67.85 L357.99,67.85 L358.49,67.84 L358.99,67.84 L359.49,67.83 L359.99,67.82 L360.49,67.82 L360.99,67.81 L361.49,67.81 L361.99,67.80 L362.49,67.80 L362.99,67.79 L363.49,67.78 L363.99,67.78 L364.49,67.77 L364.99,67.77 L365.49,67.76 L365.99,67.76 L366.49,67.75 L366.99,67.74 L367.49,67.74 L367.99,67.73 L368.49,67.73 L368.99,67.72 L369.49,67.72 L369.99,67.71 L370.49,67.71 L370.99,67.70 L371.49,67.70 L371.99,67.69 L372.49,67.68 L372.99,67.68 L373.49,67.67 L373.99,67.67 L374.49,67.66 L374.99,67.66 L375.49,67.65 L375.99,67.65 L376.49,67.64 L376.99,67.64 L377.49,67.63 L377.99,67.63 L378.49,67.62 L378.99,67.62 L379.49,67.61 L379.99,67.61 L380.49,67.60 L380.99,67.60 L381.49,67.59 L381.99,67.58 L382.49,67.58 L382.99,67.57 L383.49,67.57 L383.99,67.56 L384.49,67.56 L384.99,67.55 L385.49,67.55 L385.99,67.54 L386.49,67.54 L386.99,67.53 L387.49,67.53 L387.99,67.52 L388.49,67.52 L388.99,67.51 L389.49,67.51 L389.99,67.50 L390.49,67.50 L390.99,67.49 L391.49,67.49 L391.99,67.48 L392.49,67.48 L393.00,67.47 L393.50,67.47 L394.00,67.46 L394.50,67.46 L395.00,67.45 L395.50,67.45 L396.00,67.44 L396.50,67.44 L397.00,67.43 L397.50,67.43 L398.00,67.42 L398.50,67.42 L399.00,67.41 L399.50,67.41 L400.00,67.40 L400.50,67.40 L401.00,67.39 L401.50,67.39 L402.00,67.38 L402.50,67.38 L403.00,67.38 L403.50,67.37 L404.00,67.37 L404.50,67.36 L405.00,67.36 L405.50,67.35 L406.00,67.35 L406.50,67.34 L407.00,67.34 L407.50,67.33 L408.00,67.33 L408.50,67.32 L409.00,67.32 L409.50,67.31 L410.00,67.31 L410.50,67.30" stroke="#00ff00" stroke-width="2.6" stroke-dasharray="5.1 4.1"/>
</g>
<path d="M54.40,222.45v-4M54.40,2.50v4M125.62,222.45v-4M125.62,2.50v4M196.84,222.45v-4M196.84,2.50v4M268.06,222.45v-4M268.06,2.50v4M339.28,222.45v-4M339.28,2.50v4M410.50,222.45v-4M410.50,2.50v4M68.64,222.45v-2.3M68.64,2.50v2.3M82.89,222.45v-2.3M82.89,2.50v2.3M97.13,222.45v-2.3M97.13,2.50v2.3M111.38,222.45v-2.3M111.38,2.50v2.3M139.86,222.45v-2.3M139.86,2.50v2.3M154.11,222.45v-2.3M154.11,2.50v2.3M168.35,222.45v-2.3M168.35,2.50v2.3M182.60,222.45v-2.3M182.60,2.50v2.3M211.08,222.45v-2.3M211.08,2.50v2.3M225.33,222.45v-2.3M225.33,2.50v2.3M239.57,222.45v-2.3M239.57,2.50v2.3M253.82,222.45v-2.3M253.82,2.50v2.3M282.30,222.45v-2.3M282.30,2.50v2.3M296.55,222.45v-2.3M296.55,2.50v2.3M310.79,222.45v-2.3M310.79,2.50v2.3M325.04,222.45v-2.3M325.04,2.50v2.3M353.52,222.45v-2.3M353.52,2.50v2.3M367.77,222.45v-2.3M367.77,2.50v2.3M382.01,222.45v-2.3M382.01,2.50v2.3M396.26,222.45v-2.3M396.26,2.50v2.3" stroke="#666" stroke-width="0.8" fill="none"/>
<path d="M54.40,201.65h8.8M410.50,201.65h-8.8M54.40,180.20h8.8M410.50,180.20h-8.8M54.40,158.75h8.8M410.50,158.75h-8.8M54.40,137.30h8.8M410.50,137.30h-8.8M54.40,115.85h8.8M410.50,115.85h-8.8M54.40,94.40h8.8M410.50,94.40h-8.8M54.40,72.95h8.8M410.50,72.95h-8.8M54.40,51.50h8.8M410.50,51.50h-8.8M54.40,30.05h8.8M410.50,30.05h-8.8M54.40,8.60h8.8M410.50,8.60h-8.8" stroke="#666" stroke-width="0.6" fill="none"/>
<path d="M54.40,216.64h5.4M410.50,216.64h-5.4M54.40,212.87h5.4M410.50,212.87h-5.4M54.40,210.19h5.4M410.50,210.19h-5.4M54.40,208.11h5.4M410.50,208.11h-5.4M54.40,206.41h5.4M410.50,206.41h-5.4M54.40,204.97h5.4M410.50,204.97h-5.4M54.40,203.73h5.4M410.50,203.73h-5.4M54.40,202.63h5.4M410.50,202.63h-5.4M54.40,201.65h5.4M410.50,201.65h-5.4M54.40,195.19h5.4M410.50,195.19h-5.4M54.40,191.42h5.4M410.50,191.42h-5.4M54.40,188.74h5.4M410.50,188.74h-5.4M54.40,186.66h5.4M410.50,186.66h-5.4M54.40,184.96h5.4M410.50,184.96h-5.4M54.40,183.52h5.4M410.50,183.52h-5.4M54.40,182.28h5.4M410.50,182.28h-5.4M54.40,181.18h5.4M410.50,181.18h-5.4M54.40,180.20h5.4M410.50,180.20h-5.4M54.40,173.74h5.4M410.50,173.74h-5.4M54.40,169.97h5.4M410.50,169.97h-5.4M54.40,167.29h5.4M410.50,167.29h-5.4M54.40,165.21h5.4M410.50,165.21h-5.4M54.40,163.51h5.4M410.50,163.51h-5.4M54.40,162.07h5.4M410.50,162.07h-5.4M54.40,160.83h5.4M410.50,160.83h-5.4M54.40,159.73h5.4M410.50,159.73h-5.4M54.40,158.75h5.4M410.50,158.75h-5.4M54.40,152.29h5.4M410.50,152.29h-5.4M54.40,148.52h5.4M410.50,148.52h-5.4M54.40,145.84h5.4M410.50,145.84h-5.4M54.40,143.76h5.4M410.50,143.76h-5.4M54.40,142.06h5.4M410.50,142.06h-5.4M54.40,140.62h5.4M410.50,140.62h-5.4M54.40,139.38h5.4M410.50,139.38h-5.4M54.40,138.28h5.4M410.50,138.28h-5.4M54.40,137.30h5.4M410.50,137.30h-5.4M54.40,130.84h5.4M410.50,130.84h-5.4M54.40,127.07h5.4M410.50,127.07h-5.4M54.40,124.39h5.4M410.50,124.39h-5.4M54.40,122.31h5.4M410.50,122.31h-5.4M54.40,120.61h5.4M410.50,120.61h-5.4M54.40,119.17h5.4M410.50,119.17h-5.4M54.40,117.93h5.4M410.50,117.93h-5.4M54.40,116.83h5.4M410.50,116.83h-5.4M54.40,115.85h5.4M410.50,115.85h-5.4M54.40,109.39h5.4M410.50,109.39h-5.4M54.40,105.62h5.4M410.50,105.62h-5.4M54.40,102.94h5.4M410.50,102.94h-5.4M54.40,100.86h5.4M410.50,100.86h-5.4M54.40,99.16h5.4M410.50,99.16h-5.4M54.40,97.72h5.4M410.50,97.72h-5.4M54.40,96.48h5.4M410.50,96.48h-5.4M54.40,95.38h5.4M410.50,95.38h-5.4M54.40,94.40h5.4M410.50,94.40h-5.4M54.40,87.94h5.4M410.50,87.94h-5.4M54.40,84.17h5.4M410.50,84.17h-5.4M54.40,81.49h5.4M410.50,81.49h-5.4M54.40,79.41h5.4M410.50,79.41h-5.4M54.40,77.71h5.4M410.50,77.71h-5.4M54.40,76.27h5.4M410.50,76.27h-5.4M54.40,75.03h5.4M410.50,75.03h-5.4M54.40,73.93h5.4M410.50,73.93h-5.4M54.40,72.95h5.4M410.50,72.95h-5.4M54.40,66.49h5.4M410.50,66.49h-5.4M54.40,62.72h5.4M410.50,62.72h-5.4M54.40,60.04h5.4M410.50,60.04h-5.4M54.40,57.96h5.4M410.50,57.96h-5.4M54.40,56.26h5.4M410.50,56.26h-5.4M54.40,54.82h5.4M410.50,54.82h-5.4M54.40,53.58h5.4M410.50,53.58h-5.4M54.40,52.48h5.4M410.50,52.48h-5.4M54.40,51.50h5.4M410.50,51.50h-5.4M54.40,45.04h5.4M410.50,45.04h-5.4M54.40,41.27h5.4M410.50,41.27h-5.4M54.40,38.59h5.4M410.50,38.59h-5.4M54.40,36.51h5.4M410.50,36.51h-5.4M54.40,34.81h5.4M410.50,34.81h-5.4M54.40,33.37h5.4M410.50,33.37h-5.4M54.40,32.13h5.4M410.50,32.13h-5.4M54.40,31.03h5.4M410.50,31.03h-5.4M54.40,30.05h5.4M410.50,30.05h-5.4M54.40,23.59h5.4M410.50,23.59h-5.4M54.40,19.82h5.4M410.50,19.82h-5.4M54.40,17.14h5.4M410.50,17.14h-5.4M54.40,15.06h5.4M410.50,15.06h-5.4M54.40,13.36h5.4M410.50,13.36h-5.4M54.40,11.92h5.4M410.50,11.92h-5.4M54.40,10.68h5.4M410.50,10.68h-5.4M54.40,9.58h5.4M410.50,9.58h-5.4M54.40,8.60h5.4M410.50,8.60h-5.4" stroke="#666" stroke-width="0.7" fill="none"/>
<path d="M54.10,2.15V222.80M410.50,2.15V222.80M53.75,2.50H410.85M53.75,222.45H410.85" fill="none" stroke="#666" stroke-width="0.75"/>
<g font-family="Liberation Sans, sans-serif" font-size="11.4" fill="#666" text-anchor="middle">
<text x="53.90" y="236.65">−2</text>
<text x="125.12" y="236.65">−1</text>
<text x="196.49" y="236.65">0</text>
<text x="267.71" y="236.65">1</text>
<text x="338.93" y="236.65">2</text>
<text x="410.15" y="236.65">3</text>
</g>
<g font-family="Liberation Sans, sans-serif" font-size="11.4" fill="#666">
<text x="49.6" y="206.55" text-anchor="end">10<tspan font-size="10" dy="-4.4" dx="-0.7">−7</tspan></text>
<text x="49.6" y="185.10" text-anchor="end">10<tspan font-size="10" dy="-4.4" dx="-0.7">−6</tspan></text>
<text x="49.6" y="163.65" text-anchor="end">10<tspan font-size="10" dy="-4.4" dx="-0.7">−5</tspan></text>
<text x="49.6" y="142.20" text-anchor="end">10<tspan font-size="10" dy="-4.4" dx="-0.7">−4</tspan></text>
<text x="49.6" y="120.75" text-anchor="end">10<tspan font-size="10" dy="-4.4" dx="-0.7">−3</tspan></text>
<text x="49.6" y="99.30" text-anchor="end">10<tspan font-size="10" dy="-4.4" dx="-0.7">−2</tspan></text>
<text x="49.6" y="77.85" text-anchor="end">10<tspan font-size="10" dy="-4.4" dx="-0.7">−1</tspan></text>
<text x="49.6" y="56.40" text-anchor="end">10<tspan font-size="10" dy="-4.4" dx="0.1">0</tspan></text>
<text x="49.6" y="34.95" text-anchor="end">10<tspan font-size="10" dy="-4.4" dx="0.1">1</tspan></text>
<text x="49.6" y="13.50" text-anchor="end">10<tspan font-size="10" dy="-4.4" dx="0.1">2</tspan></text>
</g>
<g font-family="Liberation Sans, sans-serif" fill="#666" font-size="11.6"><text x="204.3" y="258.5" font-size="12">Log</text><text x="224.7" y="260.9" font-size="10">10</text><text x="236.4" y="258.3">(k/<tspan font-style="italic">β</tspan>)</text></g>
<g transform="translate(14.8,143.7) rotate(-90)" font-family="Liberation Sans, sans-serif" fill="#666">
<text x="-0.2" y="0.1" font-size="11.6">Δ</text>
<path transform="translate(1.92,-10.25) scale(0.8)" d="M0,1.1 C0.6,-0.2 1.4,-0.2 2.1,0.5 C2.8,1.2 3.6,1.2 4.2,-0.1" fill="none" stroke="#808080" stroke-width="0.85"/>
<text x="7.7" y="-5.75" font-size="10.3">double</text>
<text x="40.7" y="0" font-size="12.3">(k/<tspan font-style="italic">β</tspan>)</text>
</g>
<rect x="234.8" y="90" width="137.2" height="110.8" rx="5" ry="5" fill="#fff" stroke="#000" stroke-width="1.3"/>
<line x1="246" y1="109.4" x2="268" y2="109.4" stroke="#0000ff" stroke-width="1.9"/>
<line x1="246" y1="144.9" x2="268" y2="144.9" stroke="#ff8000" stroke-width="1.9"/>
<line x1="247" y1="180.9" x2="289" y2="180.9" stroke="#00ff00" stroke-width="1.9" stroke-dasharray="5 4.2"/>
<g font-family="Liberation Sans, sans-serif" fill="#111" font-size="10">
<text x="314.1" y="113.4" font-size="11">Total</text>
<text x="296.6" y="150" font-size="11.8">Δ</text><path transform="translate(299.01,139.47) scale(0.85)" d="M0,1.1 C0.6,-0.2 1.4,-0.2 2.1,0.5 C2.8,1.2 3.6,1.2 4.2,-0.1" fill="none" stroke="#111" stroke-width="1.15"/>
<text x="304.6" y="144.3" font-size="10.4">double</text>
<text x="339.5" y="152.3" font-size="10.2">IR0</text>
<text x="297.7" y="186" font-size="11.8">Δ</text><path transform="translate(300.11,175.47) scale(0.85)" d="M0,1.1 C0.6,-0.2 1.4,-0.2 2.1,0.5 C2.8,1.2 3.6,1.2 4.2,-0.1" fill="none" stroke="#111" stroke-width="1.15"/>
<text x="305.3" y="180.5" font-size="10.6">double</text>
<text x="338.0" y="188.7" font-size="10.4">IR12</text>
</g>
</svg>
</body></html>
